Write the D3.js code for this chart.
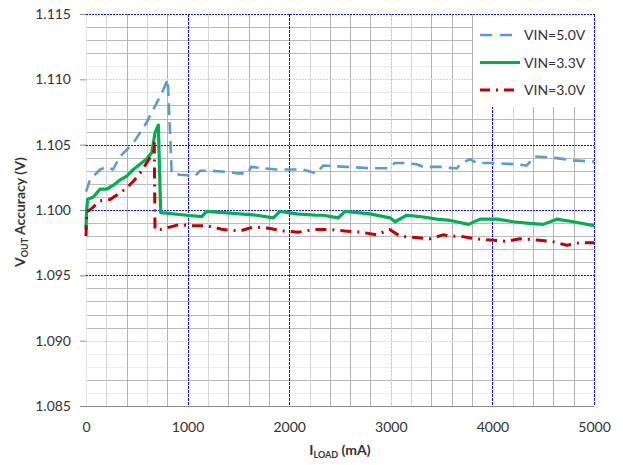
<!DOCTYPE html>
<html>
<head>
<meta charset="utf-8">
<script src="https://cdn.jsdelivr.net/npm/d3@7"></script>
<style>
body{margin:0;background:#fff;}
svg text{font-family:Lato,"Liberation Sans",sans-serif;}
</style>
</head>
<body>
<svg id="display" width="623" height="465"></svg>
<script>
// series data [I_LOAD mA, VOUT V]
const vin_50=[[0,1.1014],[39,1.1023],[138,1.1031],[204,1.1033],[266,1.1031],[335,1.1041],[463,1.1051],[531,1.1059],[597,1.1067],[696,1.1082],[761,1.1092],[804,1.1100],[827,1.1059],[843,1.1028],[925,1.1027],[1073,1.1026],[1122,1.1030],[1237,1.1030],[1417,1.1029],[1496,1.1028],[1594,1.1028],[1624,1.1033],[1742,1.1032],[1877,1.1031],[2008,1.1031],[2136,1.1031],[2221,1.1029],[2271,1.1028],[2333,1.1034],[2566,1.1033],[2795,1.1032],[2972,1.1032],[3041,1.1036],[3120,1.1036],[3255,1.1035],[3317,1.1033],[3514,1.1033],[3612,1.1032],[3652,1.1032],[3681,1.1035],[3780,1.1039],[3845,1.1036],[3976,1.1036],[4239,1.1035],[4337,1.1034],[4419,1.1041],[4600,1.1040],[4796,1.1038],[5000,1.1037]];
const vin_33=[[0,1.0985],[5,1.0998],[15,1.1008],[72,1.1010],[138,1.1016],[204,1.1016],[269,1.1019],[335,1.1023],[401,1.1026],[466,1.1031],[531,1.1035],[597,1.1039],[647,1.1044],[679,1.1059],[712,1.1065],[735,1.0998],[991,1.0996],[1139,1.0995],[1188,1.0999],[1351,1.0998],[1516,1.0997],[1680,1.0996],[1844,1.0994],[1909,1.0999],[2074,1.0997],[2271,1.0996],[2336,1.0996],[2483,1.0994],[2549,1.0999],[2795,1.0997],[2992,1.0994],[3041,1.0991],[3157,1.0996],[3287,1.0995],[3452,1.0993],[3583,1.0992],[3648,1.0991],[3763,1.0989],[3878,1.0993],[4042,1.0993],[4206,1.0991],[4337,1.0990],[4501,1.0989],[4633,1.0993],[4796,1.0991],[5000,1.0988]];
const vin_30=[[0,1.0980],[8,1.0999],[39,1.1000],[138,1.1007],[236,1.1008],[335,1.1013],[401,1.1017],[466,1.1022],[531,1.1028],[597,1.1036],[663,1.1044],[672,1.1051],[679,1.0985],[728,1.0985],[925,1.0989],[1024,1.0988],[1188,1.0988],[1351,1.0985],[1516,1.0984],[1648,1.0987],[1796,1.0986],[1942,1.0984],[2089,1.0983],[2237,1.0985],[2398,1.0985],[2546,1.0984],[2710,1.0983],[2858,1.0981],[2989,1.0985],[3091,1.0980],[3238,1.0979],[3386,1.0978],[3517,1.0981],[3583,1.0980],[3681,1.0980],[3829,1.0978],[3976,1.0977],[4141,1.0976],[4272,1.0978],[4436,1.0977],[4584,1.0976],[4731,1.0973],[4862,1.0975],[5000,1.0975]];
const series_names=["VIN=5.0V","VIN=3.3V","VIN=3.0V"];
const x_ticks=[0,1000,2000,3000,4000,5000];
const y_ticks=[1.085,1.090,1.095,1.100,1.105,1.110,1.115];

//get display svg and scales
const display=d3.select("#display");
const x=d3.scaleLinear().domain([0,5000]).range([86,594]);
const y=d3.scaleLinear().domain([1.085,1.115]).range([406,14]);

// minor grid
const faint_h=[1.111,1.109,1.089,1.088,1.086];
for (let i=1;i<30;i++){
    const v=1.085+i*0.001;
    if (i%5==0) continue;
    const is_faint=faint_h.some(f=>Math.abs(f-v)<1e-6);
    display.append("line")
        .attr("x1",x(0)).attr("x2",x(5000))
        .attr("y1",Math.round(y(v))+0.5).attr("y2",Math.round(y(v))+0.5)
        .attr("stroke",is_faint?"#ececec":"#bcbcbc")
        .attr("stroke-width",1);
}
const light_v=[200,1200,2200,3200,4200,600];
for (let m=200;m<5000;m+=200){
    if (m%1000==0) continue;
    display.append("line")
        .attr("x1",Math.round(x(m))+0.5).attr("x2",Math.round(x(m))+0.5)
        .attr("y1",y(1.115)).attr("y2",y(1.085))
        .attr("stroke",light_v.includes(m)?"#d6d6d6":"#b4b4b4")
        .attr("stroke-width",1);
}
// left faint line
display.append("line")
    .attr("x1",x(0)+0.5).attr("x2",x(0)+0.5)
    .attr("y1",y(1.115)).attr("y2",y(1.085))
    .attr("stroke","#e4e4e4");

// major grid (blue dotted)
for (const v of y_ticks){
    if (v==1.085) continue;
    const faint=(v==1.110||v==1.090);
    display.append("line")
        .attr("x1",x(0)).attr("x2",x(5000))
        .attr("y1",Math.round(y(v))+0.5).attr("y2",Math.round(y(v))+0.5)
        .attr("stroke",faint?"#d0d0ff":"#1010ff")
        .attr("stroke-dasharray","2,1")
        .attr("stroke-width",1);
}
for (const m of x_ticks){
    if (m==0) continue;
    const faint=(m==3000);
    display.append("line")
        .attr("x1",Math.round(x(m))+0.5).attr("x2",Math.round(x(m))+0.5)
        .attr("y1",y(1.115)).attr("y2",y(1.085))
        .attr("stroke",faint?"#c0c0ff":"#1010ff")
        .attr("stroke-dasharray","3,1")
        .attr("stroke-width",1);
}

// axes
const x_axis=display.append("g")
    .attr("transform","translate(0,"+(Math.round(y(1.085))+0.5)+")")
    .call(d3.axisBottom(x).tickValues(x_ticks).tickFormat(d3.format("d")).tickSize(0).tickPadding(16));
x_axis.select(".domain").attr("stroke","#8c8c8c").attr("d","M80,0H594");
x_axis.selectAll("text").style("font-size","14px").style("fill","#333");

const y_axis=display.append("g")
    .attr("transform","translate("+x(0)+",0)")
    .call(d3.axisLeft(y).tickValues(y_ticks).tickFormat(d3.format(".3f")).tickSize(6).tickPadding(9));
y_axis.select(".domain").remove();
y_axis.selectAll("line").attr("stroke","#8c8c8c");
y_axis.selectAll("text").style("font-size","14px").style("fill","#333");

// series lines
const line=d3.line().x(d=>x(d[0])).y(d=>y(d[1]));
const styles=[
    {data:vin_50,color:"#5b9bd5",dash:"12,7",width:2.6},
    {data:vin_33,color:"#00b050",dash:null,width:3.2},
    {data:vin_30,color:"#c00000",dash:"11,6,2,6",width:3}
];
for (const s of styles){
    display.append("path")
        .attr("d",line(s.data))
        .attr("fill","none")
        .attr("stroke",s.color)
        .attr("stroke-width",s.width)
        .attr("stroke-linejoin","round")
        .attr("stroke-dasharray",s.dash);
}

// legend
display.append("rect")
    .attr("x",473).attr("y",15).attr("width",120).attr("height",92)
    .attr("fill","#fff");
series_names.forEach(function(name,i){
    const ly=35+i*27.5;
    const s=styles[i];
    display.append("line")
        .attr("x1",480).attr("x2",520).attr("y1",ly).attr("y2",ly)
        .attr("stroke",s.color)
        .attr("stroke-width",s.width)
        .attr("stroke-dasharray",i==0?"12,8":(i==2?"10,6,2,6":null));
    display.append("text")
        .attr("x",524).attr("y",ly+5)
        .style("font-size","14px")
        .style("fill","#333")
        .text(name);
});

// axis titles
const xt=display.append("text")
    .attr("x",340).attr("y",455)
    .style("text-anchor","middle")
    .style("font-size","14px")
    .style("font-weight","bold")
    .style("fill","#333");
xt.append("tspan").text("I");
xt.append("tspan").attr("dy",3).style("font-size","9px").text("LOAD");
xt.append("tspan").attr("dy",-3).text(" (mA)");

const yt=display.append("text")
    .attr("transform","translate(25,212) rotate(-90)")
    .style("text-anchor","middle")
    .style("font-size","14px")
    .style("font-weight","bold")
    .style("fill","#333");
yt.append("tspan").text("V");
yt.append("tspan").attr("dy",3).style("font-size","9px").text("OUT");
yt.append("tspan").attr("dy",-3).text(" Accuracy (V)");
</script>
</body>
</html>
